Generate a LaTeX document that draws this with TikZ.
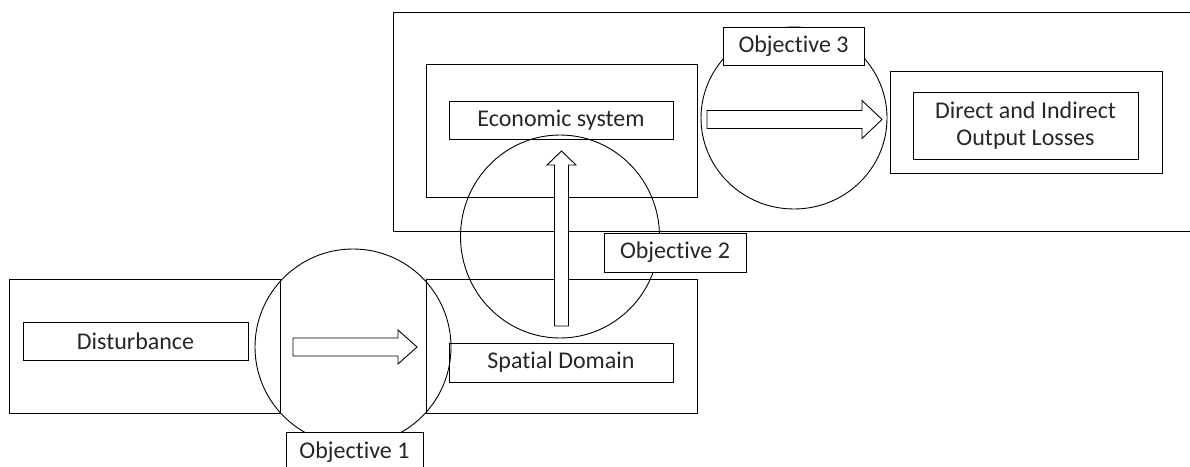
\documentclass[tikz,border=0pt]{standalone}
\usepackage{fontspec}
\setmainfont[Ligatures=NoCommon]{Carlito}
\usetikzlibrary{shapes.geometric}
\begin{document}
\begin{tikzpicture}[x=1pt,y=-1pt,line width=0.9pt,
  frame/.style={draw,rectangle,inner sep=0pt},
  tbox/.style={draw,rectangle,inner sep=0pt,font=\fontsize{24}{27}\selectfont,align=center,text=black!85},
  objlabel/.style={draw,fill=white,rectangle,inner sep=0pt,font=\fontsize{24}{27}\selectfont,text=black!85},
  ring/.style={draw,ellipse,inner sep=0pt},
  blockarrow/.style={draw,fill=white,line join=miter}]
\clip (0,0) rectangle (1190,466);
% frames
\node[frame,minimum width=807pt,minimum height=219pt] (big) at (796.5,121.5) {};
\node[frame,minimum width=271pt,minimum height=133pt] (econout) at (561.5,130.5) {};
\node[frame,minimum width=272pt,minimum height=102pt] (lossout) at (1026,122) {};
\node[frame,minimum width=271pt,minimum height=134pt] (spatout) at (561.5,346) {};
\node[frame,minimum width=271pt,minimum height=134pt] (distout) at (144.5,346) {};
% text boxes
\node[tbox,minimum width=224pt,minimum height=38pt] (econ) at (561,120) {Economic system};
\node[tbox,minimum width=225pt,minimum height=67pt] (loss) at (1025.5,125.5) {Direct and Indirect\\Output Losses};
\node[tbox,minimum width=224pt,minimum height=39pt] (spat) at (561,362.5) {Spatial Domain};
\node[tbox,minimum width=225pt,minimum height=38pt] (dist) at (135.5,341) {Disturbance};
% circles
\node[ring,minimum width=196pt,minimum height=196pt] (c1) at (353,347) {};
\node[ring,minimum width=199pt,minimum height=203pt] (c2) at (560,236.5) {};
\node[ring,minimum width=186pt,minimum height=182pt] (c3) at (794,118) {};
% block arrows
\coordinate (a1) at (293,347);
\coordinate (a2) at (561.5,326);
\coordinate (a3) at (707,119.5);
\draw[blockarrow] (a1) ++(0,-9) -- ++(105,0) -- ++(0,-8) -- ++(19,17) -- ++(-19,17) -- ++(0,-8) -- ++(-105,0) -- cycle;
\draw[blockarrow] (a3) ++(0,-9) -- ++(155,0) -- ++(0,-10) -- ++(20,19) -- ++(-20,19) -- ++(0,-10) -- ++(-155,0) -- cycle;
\draw[blockarrow] (a2) ++(-7,0) -- ++(0,-161) -- ++(-7.5,0) -- ++(14.5,-14) -- ++(14.5,14) -- ++(-7.5,0) -- ++(0,161) -- cycle;
% objective labels
\node[objlabel,minimum width=141pt,minimum height=38pt] (o3) at (793.5,46) {Objective 3};
\node[objlabel,minimum width=142pt,minimum height=39pt] (o2) at (675,252.5) {Objective 2};
\node[objlabel,minimum width=137pt,minimum height=40pt] (o1) at (354.5,452) {Objective 1};
\end{tikzpicture}
\end{document}
